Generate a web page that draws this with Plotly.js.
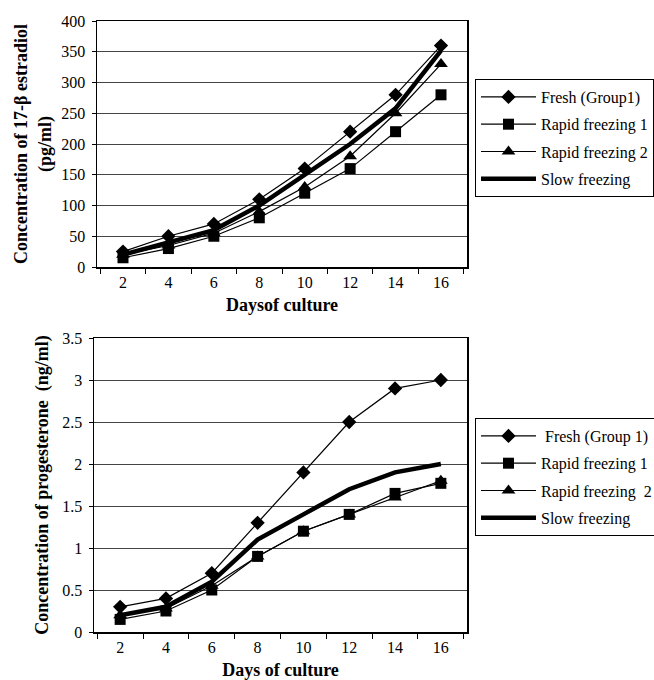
<!DOCTYPE html>
<html>
<head>
<meta charset="utf-8">
<script src="https://cdn.plot.ly/plotly-3.0.1.min.js"></script>
<style>html,body{margin:0;padding:0;background:#fff;}#chart{width:654px;height:680px;}</style>
</head>
<body>
<div id="chart"></div>
<script>
// Days of culture (categories)
const days = ['2', '4', '6', '8', '10', '12', '14', '16'];

// 17-β estradiol (pg/ml)
const e2Fresh  = [25, 50, 70, 110, 160, 220, 280, 360];
const e2Rapid1 = [15, 30, 50, 80, 120, 160, 220, 280];
const e2Rapid2 = [20, 35, 55, 90, 130, 180, 250, 330];
const e2Slow   = [20, 40, 60, 100, 150, 200, 258, 352];

// Progesterone (ng/ml)
const pFresh  = [0.3, 0.4, 0.7, 1.3, 1.9, 2.5, 2.9, 3.0];
const pRapid1 = [0.15, 0.25, 0.5, 0.9, 1.2, 1.4, 1.65, 1.77];
const pRapid2 = [0.2, 0.28, 0.55, 0.9, 1.2, 1.4, 1.6, 1.8];
const pSlow   = [0.2, 0.3, 0.6, 1.1, 1.4, 1.7, 1.9, 2.0];

const topNames = ['Fresh (Group1)', 'Rapid freezing 1', 'Rapid freezing 2', 'Slow freezing'];
const botNames = ['\u00a0Fresh (Group 1)', 'Rapid freezing 1', 'Rapid freezing \u00a02', 'Slow freezing'];

const FONT = 'Liberation Serif, Times New Roman, serif';
const symbols = ['diamond', 'square', 'triangle-up', null];
const msize = [11, 11, 12, 0];

function mk(y, i, names, xa, ya, leg) {
  const t = {
    x: days, y: y, name: names[i], xaxis: xa, yaxis: ya, legend: leg,
    legendgroup: leg + i,
    type: 'scatter',
    line: {color: '#000', width: i === 3 ? 4.5 : 1.2},
  };
  if (symbols[i]) {
    t.mode = 'lines+markers';
    t.marker = {symbol: symbols[i], size: msize[i], color: '#000'};
  } else {
    t.mode = 'lines';
  }
  return t;
}

const data = [
  mk(e2Fresh, 0, topNames, 'x', 'y', 'legend'),
  mk(e2Rapid1, 1, topNames, 'x', 'y', 'legend'),
  mk(e2Rapid2, 2, topNames, 'x', 'y', 'legend'),
  mk(e2Slow, 3, topNames, 'x', 'y', 'legend'),
  mk(pFresh, 0, botNames, 'x2', 'y2', 'legend2'),
  mk(pRapid1, 1, botNames, 'x2', 'y2', 'legend2'),
  mk(pRapid2, 2, botNames, 'x2', 'y2', 'legend2'),
  mk(pSlow, 3, botNames, 'x2', 'y2', 'legend2'),
];

const W = 654, H = 680;
const fx = p => p / W;
const fy = p => 1 - p / H;

const xCommon = {
  type: 'category',
  tickson: 'boundaries',
  ticks: 'outside', ticklen: 5, tickcolor: '#000', tickwidth: 1,
  showline: true, linecolor: '#000', linewidth: 1.5, mirror: true,
  showgrid: false, zeroline: false,
  tickfont: {family: FONT, size: 16, color: '#000'},
  fixedrange: true,
};
const yCommon = {
  ticks: 'outside', ticklen: 4, tickcolor: '#000',
  showline: true, linecolor: '#000', linewidth: 1.5, mirror: true,
  showgrid: true, gridcolor: '#444', gridwidth: 1, zeroline: false,
  tickfont: {family: FONT, size: 16, color: '#000'},
  ticklabelstandoff: 3,
  fixedrange: true,
};
const legCommon = {
  bgcolor: '#fff', bordercolor: '#000', borderwidth: 1,
  font: {family: FONT, size: 16, color: '#000'},
  xanchor: 'left', yanchor: 'top',
  tracegroupgap: 3.5,
  itemwidth: 55,
};

const layout = {
  width: W, height: H,
  margin: {l: 0, r: 0, t: 0, b: 0, autoexpand: false},
  paper_bgcolor: '#fff', plot_bgcolor: '#fff',
  showlegend: true,
  xaxis: Object.assign({}, xCommon, {
    domain: [fx(97), fx(467)], anchor: 'y',
    title: {text: '<b>Daysof culture</b>', font: {family: FONT, size: 18, color: '#000'}, standoff: 8},
  }),
  yaxis: Object.assign({}, yCommon, {
    domain: [fy(267), fy(21)], anchor: 'x',
    range: [0, 400], dtick: 50,
    title: {text: '<b>Concentration of 17-β estradiol<br>(pg/ml)</b>', font: {family: FONT, size: 18, color: '#000'}, standoff: 5},
  }),
  xaxis2: Object.assign({}, xCommon, {
    domain: [fx(94), fx(467)], anchor: 'y2',
    title: {text: '<b>Days of culture</b>', font: {family: FONT, size: 18, color: '#000'}, standoff: 10},
  }),
  yaxis2: Object.assign({}, yCommon, {
    domain: [fy(632), fy(338)], anchor: 'x2',
    range: [0, 3.5], dtick: 0.5,
    title: {text: '<b>Concentration of progesterone \u00a0(ng/ml)</b>', font: {family: FONT, size: 18, color: '#000'}, standoff: 9},
  }),
  legend: Object.assign({}, legCommon, {x: fx(475), y: fy(79)}),
  legend2: Object.assign({}, legCommon, {x: fx(475), y: fy(418)}),
};

Plotly.newPlot('chart', data, layout, {displayModeBar: false, staticPlot: true});
</script>
</body>
</html>
